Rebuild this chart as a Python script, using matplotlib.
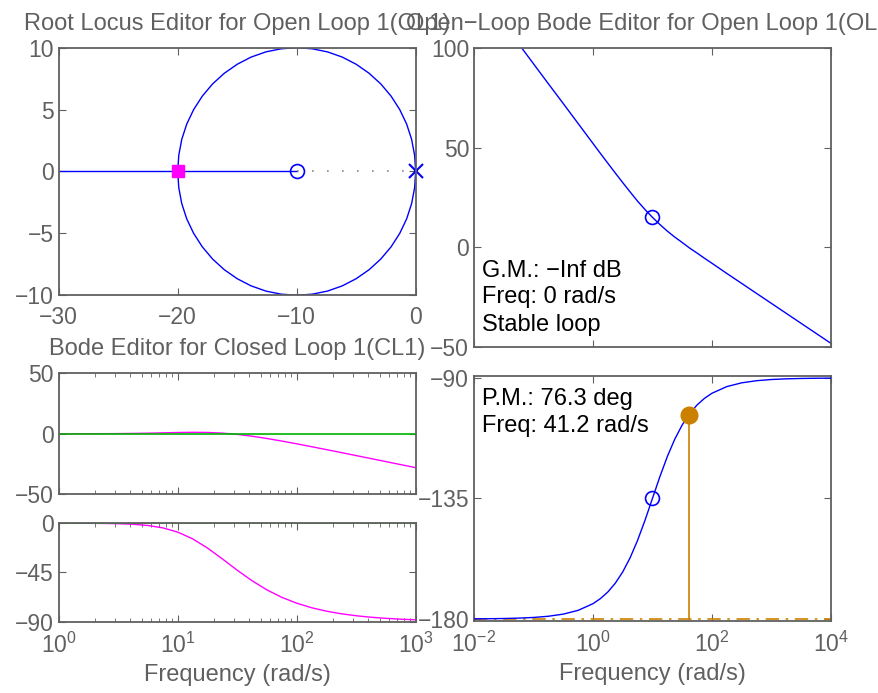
import numpy as np
import matplotlib
matplotlib.use('Agg')
import matplotlib.pyplot as plt
from matplotlib.ticker import LogLocator, NullFormatter, FixedLocator

plt.rcParams['font.family'] = ['Liberation Sans', 'DejaVu Sans']
plt.rcParams['axes.unicode_minus'] = True

# ---------------------------------------------------------------------------
# Data
# ---------------------------------------------------------------------------
# root locus: upper branch of the circle (real, imag), lower branch is mirror
locus_re = [0.0, -0.09, -0.34, -0.76, -1.34, -2.07, -2.93, -3.91, -5.0,
            -6.17, -7.41, -8.69, -10.0, -11.31, -12.59, -13.83, -15.0,
            -16.09, -17.07, -17.93, -18.66, -19.24, -19.66, -19.91, -20.0]
locus_im = [0.0, 1.31, 2.59, 3.83, 5.0, 6.09, 7.07, 7.93, 8.66,
            9.24, 9.66, 9.91, 10.0, 9.91, 9.66, 9.24, 8.66,
            7.93, 7.07, 6.09, 5.0, 3.83, 2.59, 1.31, 0.0]
real_axis_solid = [-30.0, -10.0]
real_axis_dotted = [-10.0, 0.0]
ol_poles = [0.0]
ol_zeros = [-10.0]
cl_poles = [-20.0]

# open-loop bode
ol_logw = [-2.0, -1.75, -1.5, -1.25, -1.0, -0.75, -0.5, -0.25, 0.0, 0.125,
           0.25, 0.375, 0.5, 0.625, 0.75, 0.875, 1.0, 1.125, 1.25, 1.375,
           1.5, 1.625, 1.75, 1.875, 2.0, 2.25, 2.5, 2.75, 3.0, 3.25, 3.5,
           3.75, 4.0]
ol_mag = [132.0, 122.0, 112.0, 102.0, 92.0, 82.0, 72.1, 62.1, 52.1, 47.1,
          42.2, 37.3, 32.5, 27.8, 23.2, 19.0, 15.1, 11.5, 8.2, 5.2,
          2.5, -0.3, -2.8, -5.4, -7.9, -13.0, -18.0, -23.0, -28.0, -33.0,
          -38.0, -43.0, -48.0]
ol_phase = [-179.94, -179.9, -179.82, -179.68, -179.43, -178.98, -178.19,
            -176.78, -174.29, -172.4, -169.92, -166.66, -162.45, -157.13,
            -150.65, -143.14, -135.0, -126.86, -119.36, -112.87, -107.55,
            -103.34, -100.08, -97.6, -95.71, -93.22, -91.81, -91.02, -90.57,
            -90.32, -90.18, -90.1, -90.06]
comp_w = 10.0
comp_mag = 15.1
comp_phase = -135.0
pm_w = 41.2
pm_phase = -103.7

# closed-loop bode
cl_logw = [0.0, 0.125, 0.25, 0.375, 0.5, 0.625, 0.75, 0.875, 1.0, 1.125,
           1.25, 1.375, 1.5, 1.625, 1.75, 1.875, 2.0, 2.125, 2.25, 2.375,
           2.5, 2.625, 2.75, 2.875, 3.0]
cl_mag = [0.02, 0.04, 0.07, 0.12, 0.19, 0.33, 0.53, 0.8, 1.07, 1.24,
          1.13, 0.58, -0.47, -1.98, -3.86, -5.98, -8.26, -10.63, -13.06,
          -15.51, -17.99, -20.48, -22.97, -25.47, -27.96]
cl_phase = [0.0, -0.03, -0.08, -0.19, -0.43, -0.94, -2.09, -4.26, -8.13,
            -14.26, -22.66, -32.59, -42.93, -52.6, -60.92, -67.74, -73.09,
            -77.23, -80.38, -82.78, -84.57, -85.93, -86.94, -87.71, -88.27]

# ---------------------------------------------------------------------------
BLUE = '#0000ff'
MAGENTA = '#ff00ff'
GREEN = '#00b400'
ORANGE = '#cc8000'
GREY = '#606060'
TICK_FS = 16.5
TXT_FS = 17

fig = plt.figure(figsize=(8.79, 6.93), dpi=100)
ax_rl = fig.add_axes([0.0668, 0.5739, 0.4061, 0.3573])
ax_olm = fig.add_axes([0.5392, 0.4988, 0.4061, 0.4323])
ax_clm = fig.add_axes([0.0668, 0.2867, 0.4061, 0.1746])
ax_clp = fig.add_axes([0.0668, 0.1029, 0.4061, 0.1429])
ax_olp = fig.add_axes([0.5392, 0.1039, 0.4061, 0.3540])


def style(ax):
    for sp in ax.spines.values():
        sp.set_color(GREY)
        sp.set_linewidth(1.3)
    ax.tick_params(which='both', direction='in', top=True, right=True,
                   colors=GREY, labelsize=TICK_FS, labelcolor=GREY)
    ax.tick_params(which='major', length=5)
    ax.tick_params(which='minor', length=3)
    ax.tick_params(axis='x', which='major', pad=8)


# root locus
ax_rl.plot(locus_re, locus_im, color=BLUE, lw=1.0)
ax_rl.plot(locus_re, [-v for v in locus_im], color=BLUE, lw=1.0)
ax_rl.plot(real_axis_solid, [0, 0], color=BLUE, lw=1.0)
ax_rl.plot(real_axis_dotted, [0, 0], color='#888888', lw=1.2,
           linestyle=(0, (1, 8)))
ax_rl.plot(ol_zeros, [0], 'o', mfc='none', mec=BLUE, ms=10, mew=1.2)
ax_rl.plot(ol_poles, [0], 'x', color=BLUE, ms=10, mew=1.5, clip_on=False)
ax_rl.plot(cl_poles, [0], 's', color=MAGENTA, ms=8)
ax_rl.set_xlim(-30, 0)
ax_rl.set_ylim(-10, 10)
ax_rl.set_xticks([-30, -20, -10, 0])
ax_rl.set_yticks([-10, -5, 0, 5, 10])
style(ax_rl)
ax_rl.set_title('Root Locus Editor for Open Loop 1(OL1)', color=GREY,
                fontsize=TXT_FS, pad=13)

# open-loop magnitude
ol_w = [10 ** v for v in ol_logw]
ax_olm.semilogx(ol_w, ol_mag, color=BLUE, lw=1.0)
ax_olm.plot([comp_w], [comp_mag], 'o', mfc='none', mec=BLUE, ms=10, mew=1.2)
ax_olm.set_xlim(1e-2, 1e4)
ax_olm.set_ylim(-50, 100)
ax_olm.set_yticks([-50, 0, 50, 100])
ax_olm.xaxis.set_major_locator(FixedLocator([1e-2, 1e0, 1e2, 1e4]))
ax_olm.xaxis.set_minor_locator(FixedLocator([]))
ax_olm.set_xticklabels([])
style(ax_olm)
ax_olm.set_title('Open\u2212Loop Bode Editor for Open Loop 1(OL1)', color=GREY,
                 fontsize=TXT_FS, pad=13)
ax_olm.text(0.0216, 0.2357, 'G.M.: \u2212Inf dB', transform=ax_olm.transAxes,
            fontsize=TXT_FS, va='baseline')
ax_olm.text(0.0216, 0.1469, 'Freq: 0 rad/s', transform=ax_olm.transAxes,
            fontsize=TXT_FS, va='baseline')
ax_olm.text(0.0216, 0.0544, 'Stable loop', transform=ax_olm.transAxes,
            fontsize=TXT_FS, va='baseline')

# open-loop phase
ax_olp.semilogx(ol_w, ol_phase, color=BLUE, lw=1.0, zorder=3)
ax_olp.axhline(-180, color=ORANGE, lw=1.2, linestyle=(0, (8, 4, 1.5, 4)),
               zorder=2)
ax_olp.plot([pm_w, pm_w], [-180, pm_phase], color=ORANGE, lw=1.2, zorder=2)
ax_olp.plot([pm_w], [pm_phase], 'o', color=ORANGE, ms=12, zorder=4)
ax_olp.plot([comp_w], [comp_phase], 'o', mfc='none', mec=BLUE, ms=10,
            mew=1.2, zorder=4)
ax_olp.set_xlim(1e-2, 1e4)
ax_olp.set_ylim(-180.75, -89.14)
ax_olp.set_yticks([-180, -135, -90])
ax_olp.xaxis.set_major_locator(FixedLocator([1e-2, 1e0, 1e2, 1e4]))
ax_olp.xaxis.set_minor_locator(FixedLocator([]))
style(ax_olp)
ax_olp.set_xlabel('Frequency (rad/s)', color=GREY, fontsize=TXT_FS, labelpad=4)
ax_olp.text(0.0216, 0.8805, 'P.M.: 76.3 deg', transform=ax_olp.transAxes,
            fontsize=TXT_FS, va='baseline')
ax_olp.text(0.0216, 0.7717, 'Freq: 41.2 rad/s', transform=ax_olp.transAxes,
            fontsize=TXT_FS, va='baseline')

# closed-loop magnitude
cl_w = [10 ** v for v in cl_logw]
ax_clm.semilogx(cl_w, cl_mag, color=MAGENTA, lw=1.0)
ax_clm.axhline(0, color=GREEN, lw=1.2)
ax_clm.set_xlim(1, 1e3)
ax_clm.set_ylim(-50, 50)
ax_clm.set_yticks([-50, 0, 50])
ax_clm.xaxis.set_major_locator(LogLocator(base=10))
ax_clm.xaxis.set_minor_locator(LogLocator(base=10, subs=np.arange(2, 10)))
ax_clm.xaxis.set_minor_formatter(NullFormatter())
ax_clm.set_xticklabels([])
style(ax_clm)
ax_clm.set_title('Bode Editor for Closed Loop 1(CL1)', color=GREY,
                 fontsize=TXT_FS, pad=13)

# closed-loop phase
ax_clp.semilogx(cl_w, cl_phase, color=MAGENTA, lw=1.0)
ax_clp.axhline(0, color=GREEN, lw=1.2)
ax_clp.set_xlim(1, 1e3)
ax_clp.set_ylim(-90, 0.5)
ax_clp.set_yticks([-90, -45, 0])
ax_clp.xaxis.set_major_locator(LogLocator(base=10))
ax_clp.xaxis.set_minor_locator(LogLocator(base=10, subs=np.arange(2, 10)))
ax_clp.xaxis.set_minor_formatter(NullFormatter())
style(ax_clp)
ax_clp.set_xlabel('Frequency (rad/s)', color=GREY, fontsize=TXT_FS, labelpad=4)

fig.savefig('out.png', dpi=100)
